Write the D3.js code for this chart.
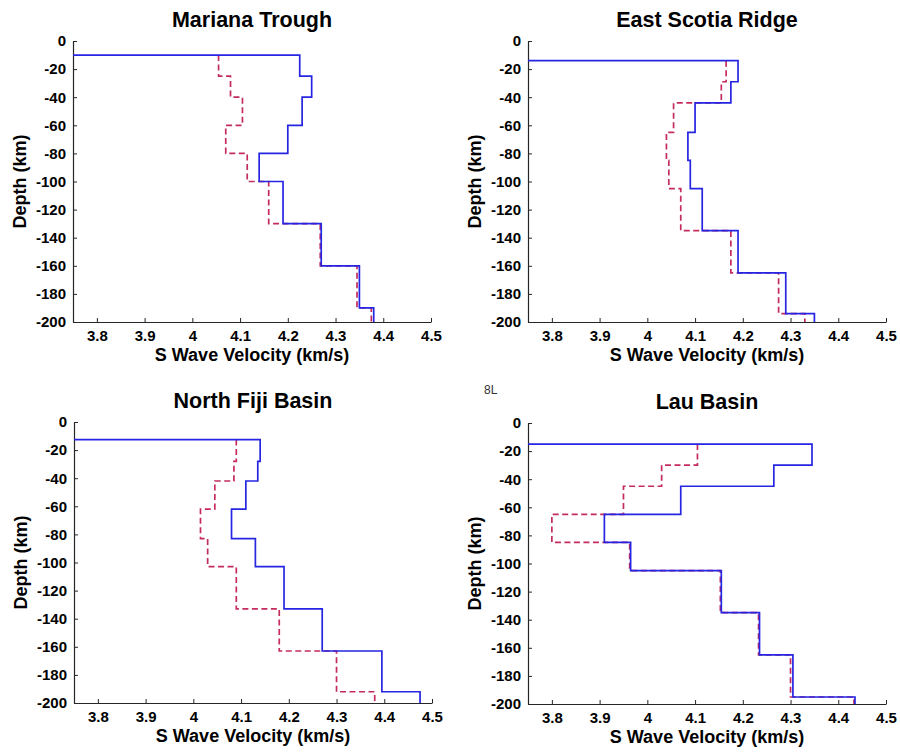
<!DOCTYPE html>
<html>
<head>
<meta charset="utf-8">
<script src="https://cdn.jsdelivr.net/npm/d3@7"></script>
<style>
  body { margin: 0; background: #fff; }
  text { font-family: "Liberation Sans", Arial, Helvetica, sans-serif; }
</style>
</head>
<body>
<svg id="chart"></svg>
<script>
// layer boundaries (km, negative = below surface) and S wave velocities (km/s)
var regions = ['Mariana Trough', 'East Scotia Ridge', 'North Fiji Basin', 'Lau Basin'];

var marianaDepth = [-10, -25, -40, -60, -80, -100, -130, -160, -190, -200];
var marianaBlue  = [4.225, 4.25, 4.23, 4.2, 4.14, 4.19, 4.27, 4.35, 4.38];
var marianaRed   = [4.055, 4.08, 4.105, 4.07, 4.115, 4.16, 4.268, 4.345, 4.375];

var scotiaDepth = [-14, -29, -44, -65, -85, -105, -135, -165, -194, -200];
var scotiaBlue  = [4.19, 4.175, 4.1, 4.085, 4.09, 4.115, 4.19, 4.29, 4.35];
var scotiaRed   = [4.165, 4.155, 4.055, 4.04, 4.045, 4.07, 4.175, 4.275, 4.33];

var fijiDepth = [-12.5, -28, -42, -62, -83, -103, -133, -163, -192, -200];
var fijiBlue  = [4.14, 4.135, 4.11, 4.08, 4.13, 4.19, 4.27, 4.395, 4.475];
var fijiRed   = [4.09, 4.085, 4.045, 4.015, 4.03, 4.09, 4.18, 4.3, 4.38];

var lauDepth = [-15, -30, -45, -65, -85, -105, -135, -165, -195, -200];
var lauBlue  = [4.345, 4.265, 4.07, 3.91, 3.965, 4.155, 4.235, 4.305, 4.435];
var lauRed   = [4.105, 4.03, 3.95, 3.8, 3.963, 4.153, 4.233, 4.3, 4.433];

var xTicks = [3.8, 3.9, 4, 4.1, 4.2, 4.3, 4.4, 4.5];
var yTicks = [0, -20, -40, -60, -80, -100, -120, -140, -160, -180, -200];

var panels = [
  { title: regions[0], depth: marianaDepth, blue: marianaBlue, red: marianaRed, left: 73,  top: 41 },
  { title: regions[1], depth: scotiaDepth,  blue: scotiaBlue,  red: scotiaRed,  left: 528, top: 41 },
  { title: regions[2], depth: fijiDepth,    blue: fijiBlue,    red: fijiRed,    left: 74,  top: 422 },
  { title: regions[3], depth: lauDepth,     blue: lauBlue,     red: lauRed,     left: 528, top: 423 }
];

var W = 900, H = 754;
var pw = 358, ph = 281;
var axisColor = '#262626';

var svg = d3.select('#chart').attr('width', W).attr('height', H);

var x = d3.scaleLinear().domain([3.75, 4.5]).range([0, pw]);
var y = d3.scaleLinear().domain([-200, 0]).range([ph, 0]);

var line = d3.line().x(d => x(d[0])).y(d => y(d[1]));

// step profile: each velocity holds from depth[i] down to depth[i+1]
function steps(depth, vel, fromLeft) {
  var pts = [];
  if (fromLeft) pts.push([x.domain()[0], depth[0]]);
  vel.forEach(function (v, i) {
    pts.push([v, depth[i]]);
    pts.push([v, depth[i + 1]]);
  });
  return pts;
}

panels.forEach(function (p, i) {
  var g = svg.append('g').attr('transform', 'translate(' + p.left + ',' + p.top + ')');

  g.append('clipPath').attr('id', 'clip' + i)
    .append('rect').attr('x', 0).attr('y', 0).attr('width', pw).attr('height', ph + 1);

  var xAxis = d3.axisBottom(x).tickValues(xTicks).tickSizeInner(-4).tickSizeOuter(0)
    .tickPadding(8).tickFormat(d => String(+d.toFixed(1)));
  var yAxis = d3.axisLeft(y).tickValues(yTicks).tickSizeInner(-4).tickSizeOuter(0)
    .tickPadding(7).tickFormat(d => String(d));

  var gx = g.append('g').attr('transform', 'translate(0,' + ph + ')').call(xAxis);
  var gy = g.append('g').call(yAxis);

  [gx, gy].forEach(function (a) {
    a.select('.domain').attr('stroke', axisColor).attr('stroke-width', 1.2);
    a.selectAll('.tick line').attr('stroke', axisColor).attr('stroke-width', 1);
    a.selectAll('.tick text')
      .attr('fill', '#000')
      .style('font-size', '15px')
      .style('font-weight', 'bold')
      .style('font-family', '"Liberation Sans", Arial, sans-serif');
  });

  var lines = g.append('g').attr('clip-path', 'url(#clip' + i + ')');

  lines.append('path')
    .attr('d', line(steps(p.depth, p.red, false)))
    .attr('fill', 'none')
    .attr('stroke', '#c42c5c')
    .attr('stroke-width', 1.7)
    .attr('stroke-dasharray', '6,3.5');

  lines.append('path')
    .attr('d', line(steps(p.depth, p.blue, true)))
    .attr('fill', 'none')
    .attr('stroke', '#2626e2')
    .attr('stroke-width', 1.7);

  g.append('text')
    .attr('x', pw / 2)
    .attr('y', -14)
    .attr('text-anchor', 'middle')
    .style('font-size', '21.5px')
    .style('font-weight', 'bold')
    .text(p.title);

  g.append('text')
    .attr('x', pw / 2)
    .attr('y', ph + 39)
    .attr('text-anchor', 'middle')
    .style('font-size', '18px')
    .style('font-weight', 'bold')
    .text('S Wave Velocity (km/s)');

  g.append('text')
    .attr('transform', 'translate(-47,' + (ph / 2) + ') rotate(-90)')
    .attr('text-anchor', 'middle')
    .style('font-size', '18px')
    .style('font-weight', 'bold')
    .text('Depth (km)');
});

svg.append('text')
  .attr('x', 484)
  .attr('y', 394)
  .style('font-size', '12px')
  .attr('fill', '#333')
  .text('8L');
</script>
</body>
</html>
